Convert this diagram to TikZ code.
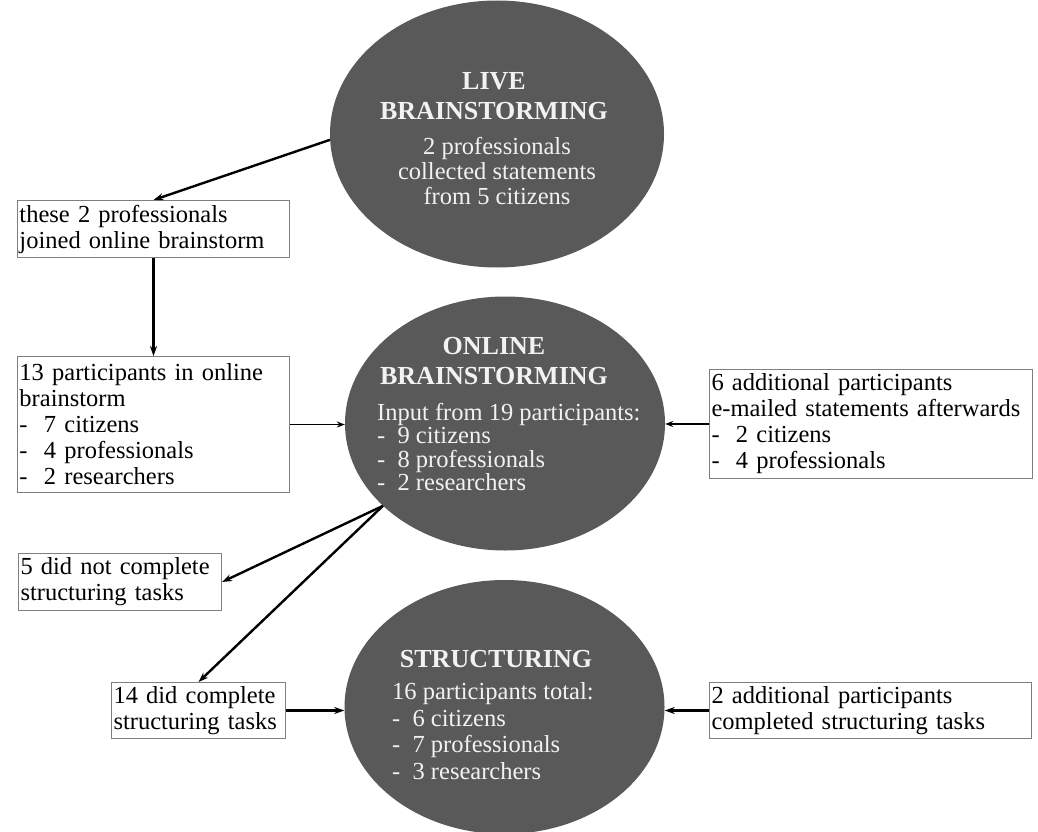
\documentclass[tikz,border=0pt]{standalone}
\usepackage{fontspec}
\setmainfont{Liberation Serif}
\usetikzlibrary{shapes.geometric,arrows.meta}
\definecolor{ellfill}{HTML}{595959}
\definecolor{elltxt}{HTML}{F2F2F2}
\definecolor{boxline}{HTML}{7F7F7F}
\tikzset{
  ell/.style={ellipse,fill=ellfill,draw=none,inner sep=0pt},
  headtxt/.style={text=elltxt,font=\fontsize{26}{30}\selectfont\bfseries,align=center,inner sep=0pt},
  bodytxt/.style={text=elltxt,font=\fontsize{24.5}{25}\selectfont,inner sep=0pt},
  infobox/.style={draw=boxline,line width=1pt,anchor=north west,align=left,
    font=\fontsize{24.5}{26}\selectfont,inner xsep=2pt,inner ysep=0pt},
  thickarr/.style={line width=2.4pt,-{Stealth[length=10pt,width=7pt]}},
  thinarr/.style={line width=1.3pt,-{Stealth[length=8pt,width=6pt]}}
}
\begin{document}
\begin{tikzpicture}[x=1pt,y=-1pt]
\useasboundingbox (0,0) rectangle (1038,832);
% ellipses
\node[ell,minimum width=334pt,minimum height=267pt] (live) at (497,134) {};
\node[ell,minimum width=320pt,minimum height=254pt] (online) at (505,423.5) {};
\node[ell,minimum width=320pt,minimum height=254pt] (struct) at (504.5,707) {};
% ellipse texts
\node[headtxt] (liveh) at (494,96) {LIVE\\BRAINSTORMING};
\node[bodytxt,align=center] (liveb) at (497,171) {2 professionals\\collected statements\\from 5 citizens};
\node[headtxt] (onlineh) at (494,361) {ONLINE\\BRAINSTORMING};
\node[bodytxt,align=left,anchor=west,font=\fontsize{24.5}{23.5}\selectfont] (onlineb) at (377,447) {Input from 19 participants:\\-\ \ 9 citizens\\-\ \ 8 professionals\\-\ \ 2 researchers};
\node[headtxt] (structh) at (496,659) {STRUCTURING};
\node[bodytxt,align=left,anchor=west,font=\fontsize{24.5}{26.5}\selectfont] (structb) at (392,731) {16 participants total:\\-\ \ 6 citizens\\-\ \ 7 professionals\\-\ \ 3 researchers};
% boxes
\node[infobox,text width=268pt,minimum height=136pt] (b2) at (17,356) {13 participants in online\\brainstorm\\-\ \ 7 citizens\\-\ \ 4 professionals\\-\ \ 2 researchers};
\node[infobox,text width=268pt,minimum height=57pt] (b1) at (17,200) {these 2 professionals\\joined online brainstorm};
\node[infobox,text width=319pt,minimum height=109pt] (b3) at (709,369) {6 additional participants\\e-mailed statements afterwards\\-\ \ 2 citizens\\-\ \ 4 professionals};
\node[infobox,text width=199pt,minimum height=57pt] (b4) at (18,553) {5 did not complete\\structuring tasks};
\node[infobox,text width=170pt,minimum height=56pt] (b5) at (111,682) {14 did complete\\structuring tasks};
\node[infobox,text width=318pt,minimum height=56pt] (b6) at (709,682) {2 additional participants\\completed structuring tasks};
% connectors
\draw[thickarr] (live.182) -- (b1.north);
\draw[thickarr] (b1.south) -- (b2.north);
\draw[thinarr] (b2.east) -- (online.west |- b2.east);
\draw[thinarr] (b3.west) -- (online.east |- b3.west);
\draw[thickarr] (online.214) -- (b4.east);
\draw[thickarr] (online.214) -- (b5.north);
\draw[thickarr] (b5.east) -- (struct.west |- b5.east);
\draw[thickarr] (b6.west) -- (struct.east |- b6.west);
\end{tikzpicture}
\end{document}
